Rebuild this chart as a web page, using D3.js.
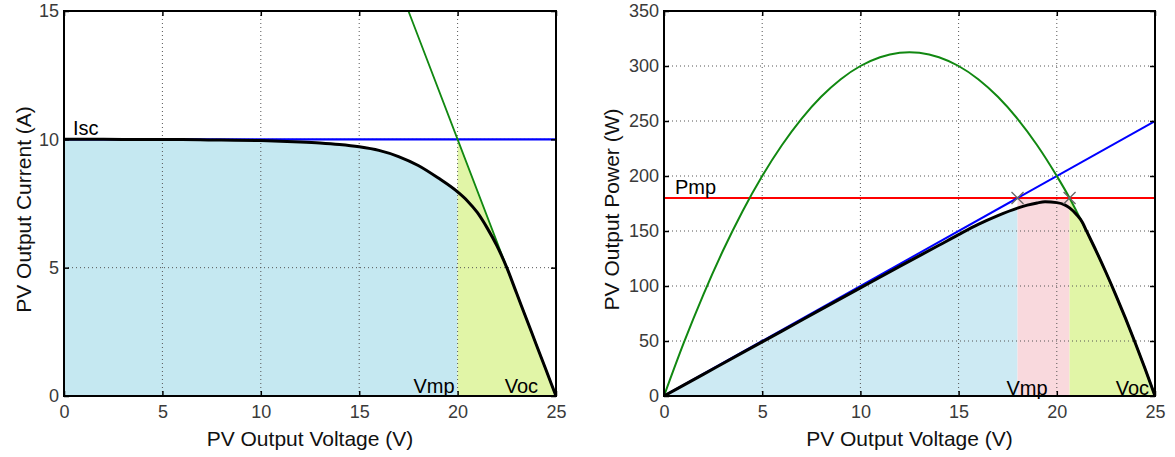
<!DOCTYPE html>
<html>
<head>
<meta charset="utf-8">
<script src="https://cdn.jsdelivr.net/npm/d3@7"></script>
<style>
  html, body { margin: 0; padding: 0; background: #fff; }
  svg { display: block; font-family: "Liberation Sans", Arial, sans-serif; }
</style>
</head>
<body>
<svg id="chart" width="1175" height="457"></svg>
<script>
// ---------- data ----------
const voltageTicks = [0, 5, 10, 15, 20, 25];
const currentTicks = [0, 5, 10, 15];
const powerTicks = [0, 50, 100, 150, 200, 250, 300, 350];

// Left: I-V curve
const ivVoltage = [0, 2, 4, 6, 8, 10, 11, 12, 13, 14, 15, 16, 17, 18, 19, 20, 20.5, 21, 21.5, 22, 22.5, 23, 23.5, 24, 24.5, 25];
const ivCurrent = [10, 10, 9.99, 9.99, 9.97, 9.95, 9.93, 9.9, 9.86, 9.8, 9.71, 9.57, 9.33, 8.98, 8.5, 7.95, 7.6, 7.15, 6.55, 5.85, 5.0, 4.0, 3.0, 2.0, 1.0, 0];
// Left: tangent line through MPP
const tangentVoltage = [17.5, 20, 25];
const tangentCurrent = [15, 10, 0];
const iscValue = 10;
const vmpLeft = 20;
const vocLeft = 25;

// Right: P-V curve
const pvVoltage = [0, 2, 4, 6, 8, 10, 12, 14, 15, 16, 17, 18, 18.5, 19, 19.4, 20, 20.4, 20.65, 21, 21.3, 21.5, 22, 22.5, 23, 23.5, 24, 24.5, 25];
const pvPower = [0, 19.7, 39.4, 59, 78.7, 98.3, 117.8, 137, 146.7, 156, 164, 170.8, 173.5, 175.5, 176.5, 175.8, 173.8, 171, 165, 158, 150.5, 132, 112.5, 92, 70.5, 48, 24.5, 0];
// Right: parabola (green)
const parabolaVoltage = [0, 1, 2, 3, 4, 5, 6, 7, 8, 9, 10, 11, 12, 12.5, 13, 14, 15, 16, 17, 18, 19, 20, 20.65, 21, 22, 23, 24, 25];
const parabolaPower = [0, 48, 92, 132, 168, 200, 228, 252, 272, 288, 300, 308, 312, 312.5, 312, 308, 300, 288, 272, 252, 228, 200, 180, 168, 132, 92, 48, 0];
// Right: linear (blue)
const linearVoltage = [0, 25];
const linearPower = [0, 250];
const pmpValue = 180;
const vmpLow = 18;
const vmpHigh = 20.65;
const vocRight = 25;

// ---------- helpers ----------
const svg = d3.select("#chart");
const zip = (xs, ys) => xs.map((x, i) => [x, ys[i]]);

function makePanel(opts) {
  const g = svg.append("g");
  const x = d3.scaleLinear().domain([0, 25]).range([opts.x0, opts.x1]);
  const y = d3.scaleLinear().domain(opts.yDomain).range([opts.yBottom, opts.yTop]);
  const layers = {
    fill: g.append("g"),
    grid: g.append("g"),
    lines: g.append("g"),
    frame: g.append("g"),
    text: g.append("g")
  };
  // grid
  layers.grid.selectAll("line.vx").data(opts.xTicks.filter(t => t > 0 && t < 25)).join("line")
    .attr("x1", d => x(d)).attr("x2", d => x(d))
    .attr("y1", opts.yTop).attr("y2", opts.yBottom)
    .attr("stroke", "#555").attr("stroke-width", 1).attr("stroke-dasharray", "1,3");
  const ymax = opts.yDomain[1];
  layers.grid.selectAll("line.hy").data(opts.yTicks.filter(t => t > 0 && t < ymax)).join("line")
    .attr("y1", d => y(d)).attr("y2", d => y(d))
    .attr("x1", opts.x0).attr("x2", opts.x1)
    .attr("stroke", "#555").attr("stroke-width", 1).attr("stroke-dasharray", "1,3");

  // axes
  const axB = layers.frame.append("g").attr("transform", `translate(0,${opts.yBottom})`)
    .call(d3.axisBottom(x).tickValues(opts.xTicks).tickSize(-5).tickPadding(9).tickFormat(d3.format("d")));
  const axT = layers.frame.append("g").attr("transform", `translate(0,${opts.yTop})`)
    .call(d3.axisTop(x).tickValues(opts.xTicks).tickSize(-5).tickFormat(""));
  const axL = layers.frame.append("g").attr("transform", `translate(${opts.x0},0)`)
    .call(d3.axisLeft(y).tickValues(opts.yTicks).tickSize(-5).tickPadding(5).tickFormat(d3.format("d")));
  const axR = layers.frame.append("g").attr("transform", `translate(${opts.x1},0)`)
    .call(d3.axisRight(y).tickValues(opts.yTicks).tickSize(-5).tickFormat(""));
  [axB, axT, axL, axR].forEach(a => {
    a.select(".domain").remove();
    a.selectAll(".tick line").attr("stroke", "#000").attr("stroke-width", 1.5);
    a.selectAll(".tick text").attr("fill", "#3a3a3a").style("font-size", "18px")
      .style("font-family", "'Liberation Sans', Arial, sans-serif");
  });
  layers.frame.append("rect")
    .attr("x", opts.x0).attr("y", opts.yTop)
    .attr("width", opts.x1 - opts.x0).attr("height", opts.yBottom - opts.yTop)
    .attr("fill", "none").attr("stroke", "#000").attr("stroke-width", 2);

  // axis labels
  layers.text.append("text")
    .attr("x", (opts.x0 + opts.x1) / 2).attr("y", 446)
    .attr("text-anchor", "middle").style("font-size", "21px").attr("fill", "#111")
    .text(opts.xLabel);
  layers.text.append("text")
    .attr("transform", `translate(${opts.yLabelX},${(opts.yTop + opts.yBottom) / 2 + 6}) rotate(-90)`)
    .attr("text-anchor", "middle").style("font-size", "21px").attr("fill", "#111")
    .text(opts.yLabel);

  const clipId = "clip" + opts.x0;
  g.append("clipPath").attr("id", clipId).append("rect")
    .attr("x", opts.x0).attr("y", opts.yTop)
    .attr("width", opts.x1 - opts.x0).attr("height", opts.yBottom - opts.yTop);
  layers.lines.attr("clip-path", `url(#${clipId})`);
  return { x, y, layers };
}

// ---------- left panel ----------
const L = makePanel({
  x0: 64, x1: 556, yTop: 11, yBottom: 396, yDomain: [0, 15],
  xTicks: voltageTicks, yTicks: currentTicks,
  xLabel: "PV Output Voltage (V)", yLabel: "PV Output Current (A)", yLabelX: 31
});
{
  const { x, y, layers } = L;
  const area = d3.area().x(d => x(d[0])).y0(y(0)).y1(d => y(d[1]));
  const ivPts = zip(ivVoltage, ivCurrent);
  layers.fill.append("path").datum(ivPts.filter(d => d[0] <= vmpLeft))
    .attr("d", area.curve(d3.curveMonotoneX)).attr("fill", "#c5e8f1");
  layers.fill.append("path").datum([[vmpLeft, iscValue], [vocLeft, 0]])
    .attr("d", area.curve(d3.curveLinear)).attr("fill", "#e1f5a7");

  const line = d3.line().x(d => x(d[0])).y(d => y(d[1]));
  layers.lines.append("path").datum([[0, iscValue], [25, iscValue]])
    .attr("d", line).attr("fill", "none").attr("stroke", "#0000ff").attr("stroke-width", 2.2);
  layers.lines.append("path").datum(zip(tangentVoltage, tangentCurrent))
    .attr("d", line).attr("fill", "none").attr("stroke", "#118811").attr("stroke-width", 1.8);
  layers.lines.append("path").datum(ivPts)
    .attr("d", line.curve(d3.curveMonotoneX)).attr("fill", "none").attr("stroke", "#000").attr("stroke-width", 3);

  layers.text.append("text").attr("x", x(0) + 9).attr("y", y(iscValue) - 4)
    .style("font-size", "20px").attr("fill", "#000").text("Isc");
  layers.text.append("text").attr("x", x(vmpLeft) - 3).attr("y", 393)
    .attr("text-anchor", "end").style("font-size", "20px").attr("fill", "#000").text("Vmp");
  layers.text.append("text").attr("x", x(vocLeft) - 18).attr("y", 393)
    .attr("text-anchor", "end").style("font-size", "20px").attr("fill", "#000").text("Voc");
}

// ---------- right panel ----------
const R = makePanel({
  x0: 664, x1: 1155, yTop: 11, yBottom: 396, yDomain: [0, 350],
  xTicks: voltageTicks, yTicks: powerTicks,
  xLabel: "PV Output Voltage (V)", yLabel: "PV Output Power (W)", yLabelX: 619
});
{
  const { x, y, layers } = R;
  const area = d3.area().x(d => x(d[0])).y0(y(0)).y1(d => y(d[1]));
  const pvPts = zip(pvVoltage, pvPower);
  const parPts = zip(parabolaVoltage, parabolaPower);
  layers.fill.append("path").datum(pvPts.filter(d => d[0] <= vmpLow))
    .attr("d", area.curve(d3.curveMonotoneX)).attr("fill", "#cdeaf3");
  layers.fill.append("rect")
    .attr("x", x(vmpLow)).attr("width", x(vmpHigh) - x(vmpLow))
    .attr("y", y(pmpValue)).attr("height", y(0) - y(pmpValue))
    .attr("fill", "#f9d9dd");
  layers.fill.append("path").datum(parPts.filter(d => d[0] >= vmpHigh))
    .attr("d", area.curve(d3.curveMonotoneX)).attr("fill", "#e1f5a7");

  const line = d3.line().x(d => x(d[0])).y(d => y(d[1]));
  layers.lines.append("path").datum([[0, pmpValue], [25, pmpValue]])
    .attr("d", line).attr("fill", "none").attr("stroke", "#ff0000").attr("stroke-width", 2);
  layers.lines.append("path").datum(zip(linearVoltage, linearPower))
    .attr("d", line).attr("fill", "none").attr("stroke", "#0000ff").attr("stroke-width", 2);
  layers.lines.append("path").datum(parPts)
    .attr("d", line.curve(d3.curveMonotoneX)).attr("fill", "none").attr("stroke", "#118811").attr("stroke-width", 2);
  layers.lines.append("path").datum(pvPts)
    .attr("d", line.curve(d3.curveMonotoneX)).attr("fill", "none").attr("stroke", "#000").attr("stroke-width", 3);

  // x markers
  const s = 6;
  [vmpLow, vmpHigh].forEach(v => {
    const cx = x(v), cy = y(pmpValue);
    layers.lines.append("path")
      .attr("d", `M${cx - s},${cy - s}L${cx + s},${cy + s}M${cx - s},${cy + s}L${cx + s},${cy - s}`)
      .attr("stroke", "#666").attr("stroke-width", 1.3).attr("fill", "none");
  });

  layers.text.append("text").attr("x", x(0) + 11).attr("y", y(pmpValue) - 4)
    .style("font-size", "20px").attr("fill", "#000").text("Pmp");
  layers.text.append("text").attr("x", x(vmpLow) - 11).attr("y", 395)
    .style("font-size", "20px").attr("fill", "#000").text("Vmp");
  layers.text.append("text").attr("x", x(vocRight) - 6).attr("y", 395)
    .attr("text-anchor", "end").style("font-size", "20px").attr("fill", "#000").text("Voc");
}
</script>
</body>
</html>
